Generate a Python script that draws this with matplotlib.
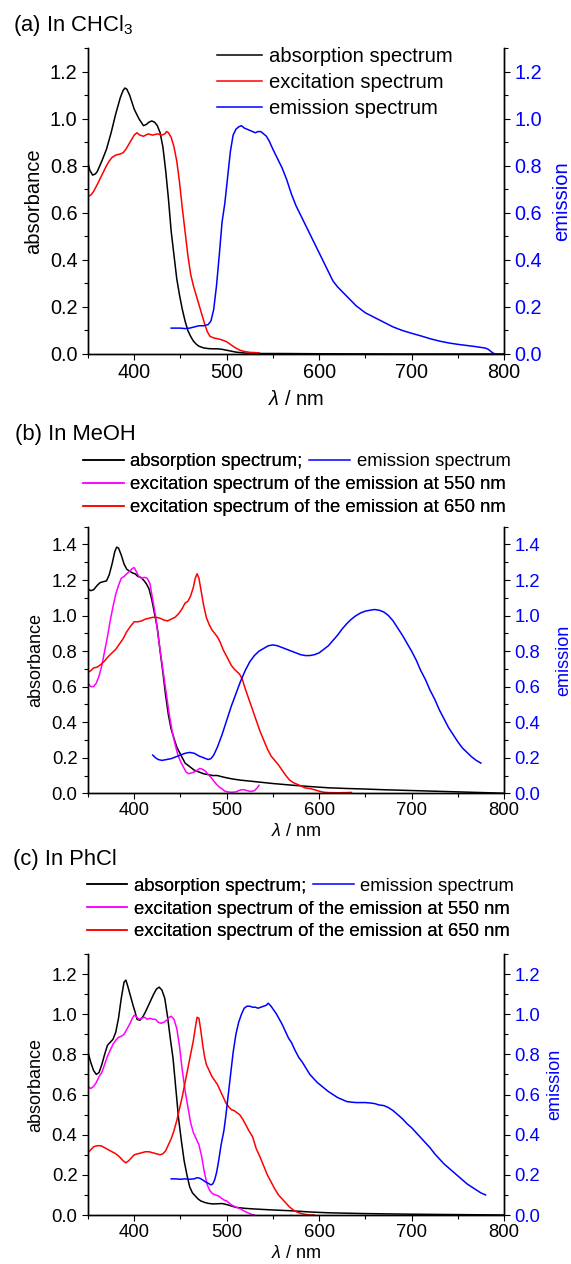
import matplotlib
matplotlib.use("Agg")
import matplotlib.pyplot as plt
from matplotlib.ticker import MultipleLocator

plt.rcParams["font.family"] = ["Liberation Sans", "DejaVu Sans"]
plt.rcParams["mathtext.fontset"] = "custom"
plt.rcParams["mathtext.rm"] = "Liberation Sans"
plt.rcParams["mathtext.it"] = "Liberation Sans:italic"

# ---- panel (a) CHCl3 ----
a_abs_x = [350, 352, 355, 358, 360, 365, 370, 375, 380, 385, 388, 390, 392, 395, 400, 405, 410, 413,
           416, 419, 422, 425, 428, 431, 434, 437, 440, 443, 446, 449, 452, 455, 458, 461, 464, 467,
           470, 475, 480, 485, 490, 495, 500, 505, 510, 515, 520, 530, 540, 560, 600, 700, 800]
a_abs_y = [0.81, 0.78, 0.76, 0.765, 0.775, 0.82, 0.87, 0.94, 1.02, 1.09, 1.12, 1.13, 1.125, 1.10, 1.04,
           1.00, 0.97, 0.975, 0.985, 0.99, 0.985, 0.97, 0.94, 0.88, 0.78, 0.66, 0.52, 0.42, 0.32, 0.25,
           0.19, 0.14, 0.10, 0.075, 0.055, 0.042, 0.033, 0.026, 0.023, 0.022, 0.022, 0.02, 0.016, 0.012,
           0.008, 0.006, 0.004, 0.003, 0.002, 0.002, 0.001, 0.0, 0.0]
a_exc_x = [350, 353, 356, 360, 365, 370, 373, 376, 380, 385, 388, 391, 394, 397, 400, 403, 406, 410,
           415, 420, 425, 430, 433, 435, 437, 440, 443, 446, 449, 452, 455, 458, 461, 464, 467, 470,
           473, 476, 479, 482, 486, 490, 495, 500, 505, 510, 515, 520, 525, 530, 535]
a_exc_y = [0.67, 0.675, 0.69, 0.72, 0.76, 0.80, 0.82, 0.835, 0.845, 0.85, 0.855, 0.87, 0.89, 0.91, 0.93,
           0.94, 0.93, 0.925, 0.935, 0.93, 0.935, 0.93, 0.935, 0.945, 0.94, 0.92, 0.88, 0.82, 0.73, 0.62,
           0.52, 0.42, 0.34, 0.29, 0.25, 0.21, 0.17, 0.13, 0.095, 0.075, 0.068, 0.065, 0.06, 0.052,
           0.038, 0.025, 0.015, 0.01, 0.007, 0.006, 0.005]
a_em_x = [440, 445, 450, 455, 460, 465, 470, 475, 480, 483, 486, 489, 492, 495, 498, 501, 504, 507,
          510, 513, 516, 519, 522, 525, 528, 531, 534, 537, 540, 543, 546, 550, 555, 560, 565, 570,
          575, 580, 585, 590, 595, 600, 605, 610, 615, 620, 625, 630, 635, 640, 645, 650, 655, 660,
          665, 670, 680, 690, 700, 710, 720, 730, 740, 750, 760, 770, 780, 783, 786, 789, 792, 800]
a_em_y = [0.11, 0.11, 0.11, 0.108, 0.11, 0.115, 0.12, 0.12, 0.125, 0.14, 0.19, 0.29, 0.42, 0.56, 0.64,
          0.75, 0.86, 0.93, 0.955, 0.965, 0.97, 0.96, 0.955, 0.95, 0.945, 0.94, 0.945, 0.945, 0.935,
          0.925, 0.905, 0.87, 0.83, 0.79, 0.74, 0.68, 0.63, 0.59, 0.55, 0.51, 0.47, 0.43, 0.39, 0.35,
          0.31, 0.285, 0.265, 0.245, 0.225, 0.205, 0.19, 0.175, 0.165, 0.155, 0.145, 0.135, 0.115,
          0.10, 0.088, 0.077, 0.065, 0.055, 0.047, 0.041, 0.036, 0.031, 0.025, 0.02, 0.01, 0.002,
          0.0, 0.0]

# ---- panel (b) MeOH ----
b_abs_x = [350, 353, 356, 360, 363, 366, 370, 373, 376, 379, 381, 383, 386, 389, 392, 395, 398, 401,
           404, 407, 410, 413, 416, 419, 422, 425, 428, 431, 434, 437, 440, 443, 446, 450, 455, 460,
           465, 470, 475, 480, 485, 490, 495, 500, 507, 515, 530, 550, 570, 590, 610, 630, 650, 670,
           690, 710, 730, 750, 770, 790, 800]
b_abs_y = [1.15, 1.14, 1.145, 1.17, 1.185, 1.19, 1.195, 1.23, 1.29, 1.36, 1.385, 1.38, 1.34, 1.29, 1.26,
           1.25, 1.24, 1.235, 1.22, 1.215, 1.20, 1.18, 1.15, 1.09, 1.01, 0.93, 0.80, 0.68, 0.55, 0.44,
           0.36, 0.31, 0.26, 0.22, 0.17, 0.15, 0.13, 0.12, 0.11, 0.105, 0.10, 0.10, 0.093, 0.087, 0.08,
           0.074, 0.066, 0.055, 0.046, 0.038, 0.031, 0.027, 0.024, 0.02, 0.017, 0.014, 0.011, 0.008,
           0.005, 0.002, 0.0]
b_exc550_x = [350, 353, 356, 359, 362, 365, 368, 371, 374, 377, 380, 383, 386, 389, 392, 395, 398, 400,
              402, 405, 408, 411, 414, 417, 420, 423, 426, 429, 432, 435, 438, 441, 444, 447, 450, 453,
              456, 459, 462, 465, 468, 471, 474, 477, 480, 483, 486, 489, 492, 495, 498, 501, 505, 510,
              513, 516, 519, 522, 526, 530, 533, 535]
b_exc550_y = [0.62, 0.60, 0.60, 0.62, 0.66, 0.72, 0.80, 0.88, 0.97, 1.05, 1.12, 1.17, 1.21, 1.22, 1.235,
              1.25, 1.265, 1.27, 1.25, 1.22, 1.21, 1.215, 1.21, 1.18, 1.09, 1.00, 0.88, 0.77, 0.66, 0.55,
              0.44, 0.35, 0.28, 0.22, 0.18, 0.15, 0.12, 0.11, 0.115, 0.12, 0.13, 0.14, 0.135, 0.125,
              0.105, 0.09, 0.07, 0.05, 0.035, 0.025, 0.012, 0.008, 0.006, 0.008, 0.015, 0.02, 0.02,
              0.015, 0.01, 0.015, 0.03, 0.045]
b_exc650_x = [350, 353, 356, 360, 364, 368, 372, 376, 380, 384, 388, 392, 396, 400, 404, 408, 412, 416,
              420, 424, 428, 432, 436, 440, 444, 448, 452, 455, 458, 461, 464, 466, 468, 470, 472, 475,
              478, 481, 484, 487, 490, 493, 496, 499, 502, 505, 508, 511, 514, 517, 520, 524, 528, 532,
              536, 540, 544, 548, 552, 556, 560, 564, 568, 572, 578, 585, 590, 595, 600, 605, 610, 620,
              630, 635]
b_exc650_y = [0.68, 0.69, 0.705, 0.71, 0.725, 0.745, 0.77, 0.79, 0.81, 0.84, 0.87, 0.91, 0.94, 0.965,
              0.965, 0.97, 0.98, 0.985, 0.99, 0.99, 0.985, 0.975, 0.97, 0.98, 0.99, 1.01, 1.04, 1.07,
              1.08, 1.11, 1.16, 1.21, 1.235, 1.21, 1.15, 1.06, 0.99, 0.95, 0.92, 0.90, 0.88, 0.85, 0.81,
              0.78, 0.75, 0.72, 0.70, 0.685, 0.67, 0.64, 0.59, 0.53, 0.47, 0.41, 0.35, 0.30, 0.25, 0.21,
              0.185, 0.16, 0.13, 0.10, 0.075, 0.06, 0.047, 0.03, 0.027, 0.02, 0.012, 0.006, 0.004, 0.003,
              0.004, 0.005]
b_em_x = [420, 423, 426, 430, 435, 440, 445, 450, 455, 460, 465, 470, 475, 480, 483, 486, 490, 495,
          500, 505, 510, 515, 520, 525, 530, 535, 540, 545, 550, 555, 560, 565, 570, 575, 580, 585,
          590, 595, 600, 605, 610, 615, 620, 625, 630, 635, 640, 645, 650, 655, 660, 665, 670, 675,
          680, 685, 690, 695, 700, 705, 710, 715, 720, 725, 730, 735, 740, 745, 750, 755, 760, 765,
          770, 775]
b_em_y = [0.215, 0.20, 0.19, 0.185, 0.19, 0.195, 0.205, 0.215, 0.225, 0.23, 0.225, 0.21, 0.2, 0.19,
          0.195, 0.215, 0.26, 0.33, 0.41, 0.49, 0.56, 0.63, 0.69, 0.74, 0.775, 0.80, 0.815, 0.83,
          0.835, 0.83, 0.82, 0.81, 0.80, 0.79, 0.78, 0.775, 0.775, 0.78, 0.79, 0.81, 0.83, 0.86, 0.89,
          0.925, 0.955, 0.98, 1.0, 1.015, 1.025, 1.03, 1.034, 1.03, 1.02, 1.00, 0.97, 0.93, 0.89,
          0.845, 0.80, 0.75, 0.69, 0.64, 0.58, 0.53, 0.47, 0.42, 0.37, 0.33, 0.29, 0.255, 0.23,
          0.205, 0.185, 0.17]

# ---- panel (c) PhCl ----
c_abs_x = [350, 353, 356, 359, 362, 365, 368, 371, 374, 377, 380, 383, 386, 389, 391, 393, 396, 399,
           401, 403, 406, 409, 412, 415, 418, 421, 424, 427, 430, 433, 436, 439, 442, 445, 448, 451,
           454, 457, 460, 463, 466, 469, 472, 476, 480, 485, 490, 495, 500, 505, 510, 520, 530, 550,
           570, 590, 610, 650, 700, 750, 800]
c_abs_y = [0.81, 0.76, 0.72, 0.70, 0.71, 0.75, 0.80, 0.845, 0.86, 0.875, 0.91, 0.98, 1.08, 1.16, 1.17,
           1.14, 1.09, 1.04, 1.01, 0.975, 0.97, 0.985, 1.01, 1.04, 1.07, 1.10, 1.125, 1.135, 1.12,
           1.08, 0.99, 0.88, 0.78, 0.63, 0.48, 0.37, 0.27, 0.20, 0.14, 0.11, 0.095, 0.08, 0.07, 0.063,
           0.058, 0.055, 0.056, 0.057, 0.052, 0.045, 0.038, 0.033, 0.030, 0.025, 0.021, 0.015, 0.011,
           0.007, 0.004, 0.002, 0.0]
c_exc550_x = [350, 353, 356, 359, 362, 365, 368, 371, 374, 377, 380, 383, 386, 389, 392, 395, 398, 400,
              402, 405, 408, 411, 414, 417, 420, 423, 426, 429, 432, 435, 438, 440, 443, 446, 449, 452,
              455, 458, 461, 464, 467, 470, 473, 476, 479, 482, 485, 488, 491, 494, 497, 500, 503, 506,
              509, 512, 515, 518, 521, 524, 527, 530]
c_exc550_y = [0.64, 0.63, 0.64, 0.66, 0.69, 0.71, 0.75, 0.79, 0.82, 0.85, 0.87, 0.885, 0.89, 0.90, 0.925,
              0.95, 0.98, 0.995, 0.99, 0.975, 0.98, 0.985, 0.975, 0.98, 0.975, 0.975, 0.96, 0.955, 0.96,
              0.97, 0.985, 0.99, 0.975, 0.93, 0.84, 0.72, 0.62, 0.54, 0.46, 0.41, 0.38, 0.35, 0.29, 0.21,
              0.15, 0.12, 0.105, 0.10, 0.095, 0.085, 0.075, 0.07, 0.058, 0.048, 0.042, 0.036, 0.03,
              0.022, 0.015, 0.009, 0.003, 0.0]
c_exc650_x = [350, 353, 356, 360, 364, 368, 372, 376, 380, 384, 388, 391, 394, 397, 400, 404, 408, 412,
              416, 420, 424, 428, 431, 434, 437, 440, 443, 446, 449, 452, 455, 458, 461, 464, 466, 468,
              470, 472, 474, 476, 478, 481, 484, 487, 490, 493, 496, 499, 502, 505, 508, 511, 514, 517,
              520, 524, 528, 532, 536, 540, 544, 548, 552, 556, 560, 564, 568, 572, 576, 580, 585, 590,
              595]
c_exc650_y = [0.31, 0.325, 0.34, 0.345, 0.345, 0.335, 0.325, 0.315, 0.305, 0.29, 0.27, 0.26, 0.27,
              0.285, 0.30, 0.305, 0.31, 0.315, 0.315, 0.31, 0.305, 0.30, 0.305, 0.32, 0.35, 0.38, 0.42,
              0.47, 0.53, 0.59, 0.66, 0.73, 0.80, 0.87, 0.93, 0.985, 0.98, 0.92, 0.85, 0.79, 0.75, 0.72,
              0.69, 0.67, 0.65, 0.62, 0.59, 0.56, 0.54, 0.525, 0.52, 0.51, 0.50, 0.48, 0.455, 0.42,
              0.39, 0.33, 0.29, 0.245, 0.20, 0.165, 0.13, 0.10, 0.08, 0.06, 0.04, 0.025, 0.015, 0.008,
              0.003, 0.0, 0.0]
c_em_x = [440, 445, 450, 455, 460, 465, 468, 471, 474, 477, 480, 483, 485, 487, 489, 491, 494, 497,
          499, 502, 505, 507, 510, 513, 516, 519, 522, 525, 528, 531, 534, 537, 540, 543, 545, 548,
          551, 554, 557, 560, 564, 567, 570, 574, 578, 582, 586, 590, 594, 598, 602, 606, 610, 615,
          620, 625, 630, 635, 640, 645, 650, 655, 660, 665, 670, 675, 680, 685, 690, 695, 700, 705,
          710, 715, 720, 725, 730, 735, 740, 745, 750, 755, 760, 765, 770, 775, 780]
c_em_y = [0.18, 0.18, 0.178, 0.18, 0.178, 0.18, 0.186, 0.183, 0.175, 0.165, 0.158, 0.15, 0.155, 0.175,
          0.21, 0.26, 0.35, 0.42, 0.49, 0.61, 0.73, 0.81, 0.90, 0.96, 1.00, 1.03, 1.04, 1.04, 1.035,
          1.035, 1.03, 1.035, 1.04, 1.045, 1.055, 1.04, 1.02, 1.0, 0.975, 0.95, 0.91, 0.88, 0.86, 0.82,
          0.785, 0.76, 0.73, 0.70, 0.68, 0.66, 0.645, 0.63, 0.615, 0.60, 0.585, 0.575, 0.565, 0.562,
          0.56, 0.56, 0.56, 0.558, 0.555, 0.548, 0.545, 0.535, 0.52, 0.50, 0.48, 0.455, 0.435, 0.41,
          0.385, 0.36, 0.335, 0.305, 0.28, 0.255, 0.235, 0.215, 0.195, 0.175, 0.155, 0.14, 0.125,
          0.11, 0.10]

W, H = 571, 1264
fig = plt.figure(figsize=(W / 100, H / 100), dpi=100)


def box(left, top, right, bottom):
    return [left / W, 1 - bottom / H, (right - left) / W, (bottom - top) / H]


def style_axes(ax, ax2, ytop, fs_tick, fs_lab, xpad, rpad):
    ax.set_xlim(350, 800)
    ax.set_ylim(0, ytop)
    ax2.set_ylim(0, ytop)
    ax.xaxis.set_major_locator(MultipleLocator(100))
    ax.xaxis.set_minor_locator(MultipleLocator(50))
    for a in (ax, ax2):
        a.yaxis.set_major_locator(MultipleLocator(0.2))
        a.yaxis.set_minor_locator(MultipleLocator(0.1))
        a.spines["top"].set_visible(False)
        for s in a.spines.values():
            s.set_linewidth(1.0)
        a.tick_params(which="major", direction="out", length=4.4, width=0.8, labelsize=fs_tick, pad=3.2)
        a.tick_params(which="minor", direction="out", length=2.6, width=0.8)
        a.yaxis.set_major_formatter(lambda v, p: f"{v:.1f}")
    ax.tick_params(axis="x", pad=2)
    ax2.tick_params(axis="y", labelcolor="blue")
    ax.set_xlabel(r"$\lambda$ / nm", fontsize=fs_lab, labelpad=xpad)
    ax.set_ylabel("absorbance", fontsize=fs_lab, labelpad=5)
    ax2.set_ylabel("emission", fontsize=fs_lab, color="blue", labelpad=rpad)


lw = 1.1
L, R = 88, 504

# (a)
axa = fig.add_axes(box(L, 48, R, 354))
axa2 = axa.twinx()
la1, = axa.plot(a_abs_x, a_abs_y, color="black", lw=lw)
la2, = axa.plot(a_exc_x, a_exc_y, color="red", lw=lw)
la3, = axa2.plot(a_em_x, a_em_y, color="blue", lw=lw)
style_axes(axa, axa2, 1.3, 14.3, 14.5, 6, 7)
axa.legend([la1, la2, la3], ["absorption spectrum", "excitation spectrum", "emission spectrum"],
           loc="upper left", bbox_to_anchor=(217 / W, 1 - 47 / H), bbox_transform=fig.transFigure,
           frameon=False, fontsize=14.6, borderpad=0, borderaxespad=0, handlelength=2.23,
           handletextpad=0.33, labelspacing=0.35)
fig.text(12.7 / W, 1 - 25 / H, "(a) In CHCl$_3$", fontsize=15.8, va="center", ha="left")

# (b)
axb = fig.add_axes(box(L, 526.7, R, 793.3))
axb2 = axb.twinx()
lb1, = axb.plot(b_abs_x, b_abs_y, color="black", lw=lw)
lb2, = axb.plot(b_exc550_x, b_exc550_y, color="magenta", lw=lw)
lb3, = axb.plot(b_exc650_x, b_exc650_y, color="red", lw=lw)
lb4, = axb2.plot(b_em_x, b_em_y, color="blue", lw=lw)
style_axes(axb, axb2, 1.5, 13.3, 13, 3, 11)
leg_kw = dict(loc="upper left", bbox_transform=fig.transFigure, frameon=False, fontsize=13.35,
              borderpad=0, borderaxespad=0, handlelength=2.2, handletextpad=0.34, labelspacing=0.31)
exc_labels = ["absorption spectrum;", "excitation spectrum of the emission at 550 nm",
              "excitation spectrum of the emission at 650 nm"]
legb = axb.legend([lb1, lb2, lb3], exc_labels, bbox_to_anchor=(83 / W, 1 - 453.5 / H), **leg_kw)
axb.add_artist(legb)
axb2.legend([lb4], ["emission spectrum"], bbox_to_anchor=(309.5 / W, 1 - 453.5 / H), **leg_kw)
fig.text(14.6 / W, 1 - 435 / H, "(b) In MeOH", fontsize=15.8, va="center", ha="left")

# (c)
axc = fig.add_axes(box(L, 954, R, 1215))
axc2 = axc.twinx()
lc1, = axc.plot(c_abs_x, c_abs_y, color="black", lw=lw)
lc2, = axc.plot(c_exc550_x, c_exc550_y, color="magenta", lw=lw)
lc3, = axc.plot(c_exc650_x, c_exc650_y, color="red", lw=lw)
lc4, = axc2.plot(c_em_x, c_em_y, color="blue", lw=lw)
style_axes(axc, axc2, 1.3, 13.3, 13, 3, 4)
legc = axc.legend([lc1, lc2, lc3], exc_labels, bbox_to_anchor=(86.7 / W, 1 - 877.8 / H), **leg_kw)
axc.add_artist(legc)
axc2.legend([lc4], ["emission spectrum"], bbox_to_anchor=(313 / W, 1 - 877.8 / H), **leg_kw)
fig.text(12.7 / W, 1 - 860 / H, "(c) In PhCl", fontsize=15.8, va="center", ha="left")

fig.savefig("out.png", dpi=100)
